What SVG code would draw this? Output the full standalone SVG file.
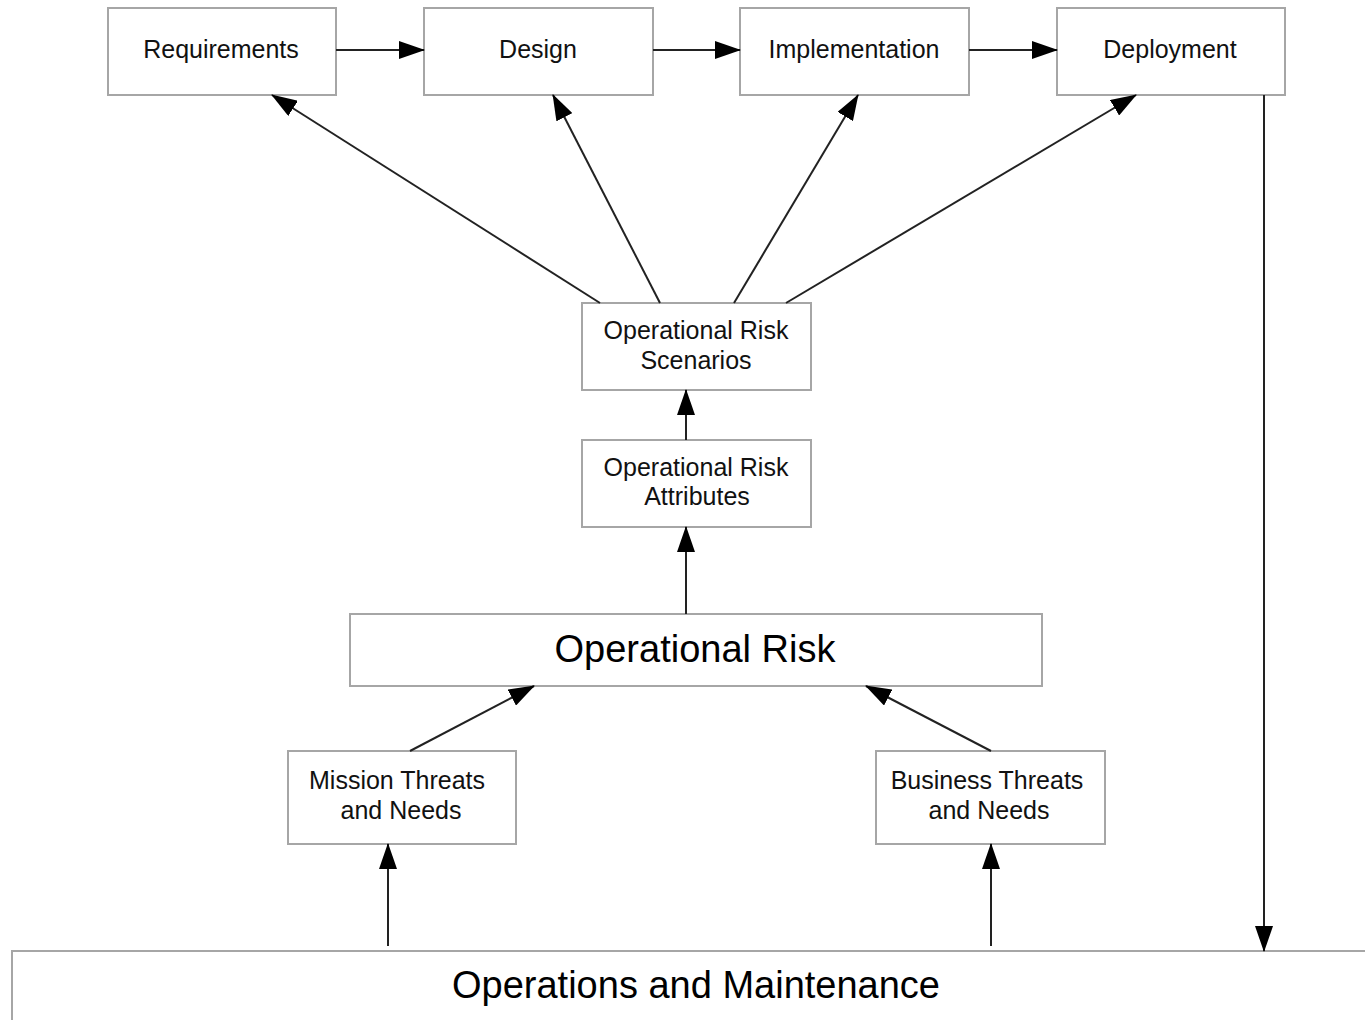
<svg xmlns="http://www.w3.org/2000/svg" width="1365" height="1020" viewBox="0 0 1365 1020">
  <style>
    .box { fill: #ffffff; stroke: #a6a6a6; stroke-width: 2; }
    .lbl { font-family: "Liberation Sans", Arial, sans-serif; font-size: 25px; fill: #111111; text-anchor: middle; }
    .big { font-family: "Liberation Sans", Arial, sans-serif; font-size: 38px; fill: #000000; text-anchor: middle; }
    .edge { stroke: #222222; stroke-width: 2; fill: none; marker-end: url(#head); }
  </style>
  <defs>
    <marker id="head" markerUnits="userSpaceOnUse" markerWidth="26" markerHeight="18" viewBox="0 0 26 18" refX="25" refY="9" orient="auto">
      <path d="M0,0 L26,9 L0,18 Z" fill="#000000"/>
    </marker>
  </defs>

  <rect width="1365" height="1020" fill="#ffffff"/>

  <!-- lifecycle phases -->
  <g id="requirements">
    <rect class="box" x="108" y="8" width="228" height="87"/>
    <text class="lbl" x="221" y="58">Requirements</text>
  </g>
  <g id="design">
    <rect class="box" x="424" y="8" width="229" height="87"/>
    <text class="lbl" x="538" y="58">Design</text>
  </g>
  <g id="implementation">
    <rect class="box" x="740" y="8" width="229" height="87"/>
    <text class="lbl" x="854" y="58">Implementation</text>
  </g>
  <g id="deployment">
    <rect class="box" x="1057" y="8" width="228" height="87"/>
    <text class="lbl" x="1170" y="58">Deployment</text>
  </g>

  <!-- risk chain -->
  <g id="scenarios">
    <rect class="box" x="582" y="303" width="229" height="87"/>
    <text class="lbl" x="696" y="339">Operational Risk</text>
    <text class="lbl" x="696" y="369">Scenarios</text>
  </g>
  <g id="attributes">
    <rect class="box" x="582" y="440" width="229" height="87"/>
    <text class="lbl" x="696" y="476">Operational Risk</text>
    <text class="lbl" x="697" y="505">Attributes</text>
  </g>
  <g id="operational-risk">
    <rect class="box" x="350" y="614" width="692" height="72"/>
    <text class="big" x="695" y="662">Operational Risk</text>
  </g>
  <g id="mission">
    <rect class="box" x="288" y="751" width="228" height="93"/>
    <text class="lbl" x="397" y="789">Mission Threats</text>
    <text class="lbl" x="401" y="819">and Needs</text>
  </g>
  <g id="business">
    <rect class="box" x="876" y="751" width="229" height="93"/>
    <text class="lbl" x="987" y="789">Business Threats</text>
    <text class="lbl" x="989" y="819">and Needs</text>
  </g>
  <g id="operations">
    <rect class="box" x="12" y="951" width="1365" height="80"/>
    <text class="big" x="696" y="998">Operations and Maintenance</text>
  </g>

  <!-- connectors -->
  <g id="connectors">
    <line class="edge" x1="336" y1="50" x2="424" y2="50"/>
    <line class="edge" x1="653" y1="50" x2="740" y2="50"/>
    <line class="edge" x1="969" y1="50" x2="1057" y2="50"/>

    <line class="edge" x1="600" y1="303" x2="272" y2="95"/>
    <line class="edge" x1="660" y1="303" x2="553" y2="95"/>
    <line class="edge" x1="734" y1="303" x2="858" y2="95"/>
    <line class="edge" x1="786" y1="303" x2="1136" y2="95"/>

    <line class="edge" x1="686" y1="440" x2="686" y2="390"/>
    <line class="edge" x1="686" y1="614" x2="686" y2="527"/>

    <line class="edge" x1="410" y1="751" x2="534" y2="686"/>
    <line class="edge" x1="991" y1="751" x2="866" y2="686"/>

    <line class="edge" x1="388" y1="946" x2="388" y2="844"/>
    <line class="edge" x1="991" y1="946" x2="991" y2="844"/>

    <line class="edge" x1="1264" y1="95" x2="1264" y2="951"/>
  </g>
</svg>
